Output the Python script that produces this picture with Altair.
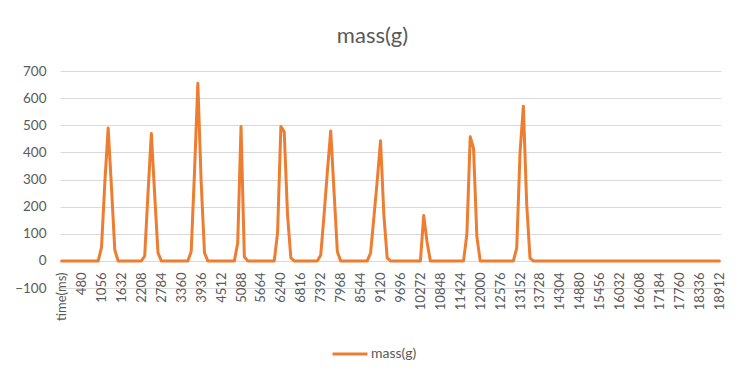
import altair as alt
import pandas as pd

# ---- data ----
chart_title = "mass(g)"
series_name = "mass(g)"
first_category = "time(ms)"          # header cell that Excel took as the first category
time_step_ms = 96
n_samples = 198                      # 0 ms .. 18912 ms
label_every = 6

# start time (ms) of each pulse and the masses (g) read for consecutive samples
peak_start_ms = [1056, 2304, 3648, 4992, 6144, 7392, 8832, 10368, 11616, 13056]
peak_values = [
    [50, 290, 490, 270, 40],
    [18, 250, 470, 245, 30],
    [35, 330, 655, 290, 30],
    [66, 495, 15],
    [103, 495, 476, 170, 11],
    [22, 170, 330, 479, 256, 34],
    [29, 160, 295, 443, 170, 11],
    [167, 70],
    [100, 458, 415, 90],
    [47, 400, 570, 210, 10],
]
y_ticks = [-100, 0, 100, 200, 300, 400, 500, 600, 700]

# ---- build table ----
times = [time_step_ms * k for k in range(n_samples)]
mass_by_time = {t: 0 for t in times}
for start, vals in zip(peak_start_ms, peak_values):
    for j, v in enumerate(vals):
        mass_by_time[start + j * time_step_ms] = v

categories = [first_category] + [str(t) for t in times]
masses = [0] + [mass_by_time[t] for t in times]
df = pd.DataFrame({"time": categories, "mass": masses, "series": series_name})
label_values = categories[::label_every]

FONT = "Lato"
TXT = "#595959"

chart = alt.Chart(df).mark_line(
    strokeWidth=3, strokeJoin="round", strokeCap="round"
).encode(
    x=alt.X(
        "time:N",
        sort=categories,
        scale=alt.Scale(padding=0.5),
        axis=alt.Axis(
            values=label_values,
            labelAngle=270,
            labelAlign="right",
            labelBaseline="middle",
            labelPadding=11,
            offset=-27,
            domain=False,
            ticks=False,
            grid=False,
            title=None,
            labelFont=FONT,
            labelFontSize=13,
            labelColor=TXT,
            labelOverlap=False,
        ),
    ),
    y=alt.Y(
        "mass:Q",
        scale=alt.Scale(domain=[-100, 700], nice=False, zero=False),
        axis=alt.Axis(
            values=y_ticks,
            title=None,
            domain=False,
            ticks=False,
            labelPadding=14,
            labelFont=FONT,
            labelFontSize=13.5,
            labelColor=TXT,
            gridColor="#d9d9d9",
            gridWidth=1,
        ),
    ),
    color=alt.Color(
        "series:N",
        scale=alt.Scale(range=["#ED7D31"]),
        legend=alt.Legend(
            title=None,
            orient="none",
            legendX=271,
            legendY=264,
            symbolType="stroke",
            symbolSize=1225,
            symbolStrokeWidth=3,
            labelFont=FONT,
            labelFontSize=14,
            labelColor=TXT,
            labelOffset=2,
            padding=0,
        ),
    ),
).properties(
    width=661,
    height=217,
    title=alt.TitleParams(
        chart_title,
        font=FONT,
        fontSize=22,
        fontWeight="normal",
        color=TXT,
        anchor="middle",
        dx=-18,
        offset=16,
    ),
    autosize=alt.AutoSizeParams(type="none"),
    padding={"left": 52, "top": 63, "right": 10, "bottom": 82},
    background="white",
).configure_view(stroke=None)

chart.save("out.html", embed_options={"renderer": "svg", "actions": False})
